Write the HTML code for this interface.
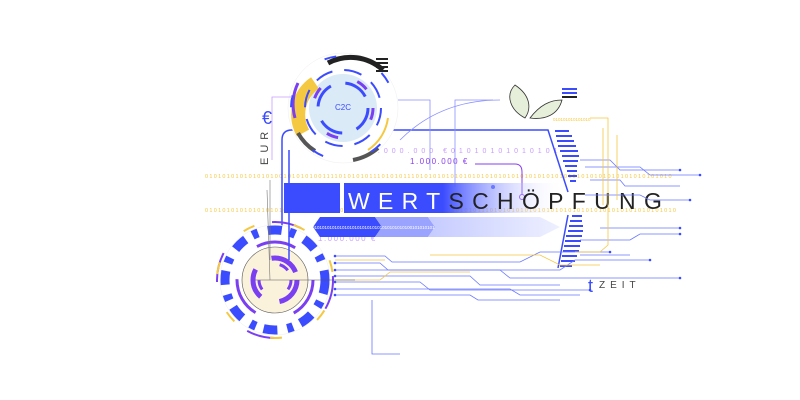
<!DOCTYPE html>
<html><head><meta charset="utf-8"><style>
html,body{margin:0;padding:0;background:#fff}
svg{display:block}
text{font-family:"Liberation Sans",sans-serif}
</style></head><body>
<svg width="800" height="400" viewBox="0 0 800 400" xmlns="http://www.w3.org/2000/svg">
<defs>
<linearGradient id="g1" x1="0" x2="1"><stop offset="0" stop-color="#3b4cff"/><stop offset="0.45" stop-color="#3b4cff"/><stop offset="1" stop-color="#fff" stop-opacity="0"/></linearGradient>
<linearGradient id="g2" x1="0" x2="1"><stop offset="0" stop-color="#c5cbff"/><stop offset="1" stop-color="#eef0ff"/></linearGradient>
<clipPath id="c1"><rect x="205" y="160" width="490" height="60"/></clipPath>
</defs>

<!-- binary rows -->
<g clip-path="url(#c1)">
<text x="205" y="178" font-size="5.5" fill="#f5c842" letter-spacing="1.3">010101010101010100101010100111101010101110101011101010101010101010101010101010101010101010101010101010101010</text>
<text x="205" y="212" font-size="5.5" fill="#f5c842" letter-spacing="1.3">0101010101010101010101010100101010001111010101010111010101010101110101010101010101010101010101010101010101010</text>
</g>
<text x="370" y="153" font-size="7" fill="#c79cff" letter-spacing="4">5.000.000 €01010101010101</text>
<text x="410" y="164" font-size="8" fill="#8a3ff0" letter-spacing="1.5">1.000.000 €</text>
<text x="318" y="241" font-size="8" fill="#c9a6ff" letter-spacing="1.5">1.000.000 €</text>

<!-- frame lines -->
<path d="M282 260 V140 Q282 130 292 130 H548 L568 192" fill="none" stroke="#3b4cff" stroke-width="1.5"/>
<path d="M568 215 L558 268" fill="none" stroke="#3b4cff" stroke-width="1.5"/>
<path d="M475 164 H515 Q522 164 522 172 V196" fill="none" stroke="#8a3ff0" stroke-width="1"/>
<circle cx="522" cy="197" r="2.5" fill="#fff" stroke="#8a3ff0"/>
<path d="M493 100 H455 V187" fill="none" stroke="#8a90ff" stroke-width="0.8"/><circle cx="493" cy="187" r="2" fill="#3b4cff"/>
<path d="M398 100 H430 V170" fill="none" stroke="#8a90ff" stroke-width="0.8"/>
<path d="M400 140 Q440 100 500 100" fill="none" stroke="#8a90ff" stroke-width="0.8"/>

<!-- banner -->
<rect x="284" y="183" width="56" height="30" fill="#3b4cff"/>
<rect x="344" y="183" width="220" height="30" fill="url(#g1)"/>
<polygon points="313,227 320,217 375,217 382,227 375,237 320,237" fill="#3b4cff"/>
<polygon points="375,217 428,217 435,227 428,237 375,237 382,227" fill="#9aa4ff"/>
<polygon points="428,217 540,217 560,227 540,237 428,237 435,227" fill="url(#g2)"/>
<text x="312" y="229" font-size="4.5" fill="#fff">0101010101010101010101010101010101010100101010101</text>
<text x="348" y="209" font-size="23" fill="#fff" letter-spacing="8.3">WERT<tspan fill="#222">SCHÖPFUNG</tspan></text>

<!-- stripes -->
<g fill="#3b4cff">
<rect x="555" y="130" width="14" height="2"/><rect x="556" y="135" width="16" height="2"/><rect x="557" y="140" width="17" height="2"/><rect x="558" y="145" width="18" height="2"/><rect x="560" y="150" width="18" height="2"/><rect x="562" y="155" width="17" height="2"/><rect x="563" y="160" width="15" height="2"/><rect x="565" y="165" width="12" height="2"/><rect x="567" y="170" width="10" height="2"/><rect x="568" y="175" width="9" height="2"/><rect x="570" y="180" width="6" height="2"/>
<rect x="572" y="215" width="10" height="2"/><rect x="570" y="220" width="12" height="2"/><rect x="569" y="225" width="14" height="2"/><rect x="568" y="230" width="15" height="2"/><rect x="566" y="235" width="16" height="2"/><rect x="565" y="240" width="16" height="2"/><rect x="564" y="245" width="16" height="2"/><rect x="563" y="250" width="16" height="2"/><rect x="562" y="255" width="15" height="2"/><rect x="561" y="260" width="14" height="2"/><rect x="560" y="265" width="12" height="2"/>
</g>

<!-- circuits -->
<g stroke="#6a78ff" stroke-width="0.8" fill="none">
<path d="M335 256 H385 L392 262 H520 L540 252 H610"/>
<path d="M335 263 H380 L388 270 H560 L575 260 H650"/>
<path d="M335 270 H500 L510 278 H680"/>
<path d="M335 276 H470 L480 285 H560"/>
<path d="M335 282 H420 L430 290 H590"/>
<path d="M335 289 H510 L520 295 H580"/>
<path d="M335 295 H470 L478 300 H560"/>
<path d="M580 160 H610 L620 170 H680"/>
<path d="M585 167 H640 L650 175 H700"/>
<path d="M590 180 H620 L625 186 H680"/>
<path d="M585 195 H640 L650 200 H690"/>
<path d="M600 228 H680"/><path d="M580 240 H630 L640 234 H680"/>
<path d="M580 255 H630"/><path d="M400 354 H372 V300"/>
</g>
<g stroke="#f5c842" stroke-width="0.8" fill="none">
<path d="M335 260 H385"/><path d="M335 280 H380 L390 272 H470"/>
<path d="M430 255 H540 L560 265 H600"/>
<path d="M590 118 H608 V245 L600 252 H575"/>
<path d="M603 128 V205"/><path d="M617 135 V200"/>
</g>
<text x="553" y="121" font-size="4.5" fill="#f5c842">010101010101010</text>
<g fill="#3b4cff">
<circle cx="335" cy="256" r="1.3"/><circle cx="335" cy="263" r="1.3"/><circle cx="335" cy="270" r="1.3"/><circle cx="335" cy="276" r="1.3"/><circle cx="335" cy="282" r="1.3"/><circle cx="335" cy="289" r="1.3"/><circle cx="335" cy="295" r="1.3"/>
<circle cx="610" cy="252" r="1.3"/><circle cx="650" cy="260" r="1.3"/><circle cx="680" cy="278" r="1.3"/><circle cx="590" cy="290" r="1.3"/><circle cx="680" cy="170" r="1.3"/><circle cx="700" cy="175" r="1.3"/><circle cx="690" cy="200" r="1.3"/><circle cx="680" cy="228" r="1.3"/><circle cx="680" cy="234" r="1.3"/>
</g>

<!-- bottom circle -->
<g transform="translate(275,280)">
<circle r="55" fill="#fff" stroke="#eee" stroke-width="0.5"/>
<circle r="33" fill="#fbf2dc"/>
<circle r="33" fill="none" stroke="#555" stroke-width="0.6"/>
<circle r="50" fill="none" stroke="#3b4cff" stroke-width="9" stroke-dasharray="14 8 6 10"/>
<circle r="58" fill="none" stroke="#7b3ff2" stroke-width="2" stroke-dasharray="30 60"/>
<circle r="58" fill="none" stroke="#f5c842" stroke-width="2" stroke-dasharray="12 40" stroke-dashoffset="20"/>
<circle r="38" fill="none" stroke="#7b3ff2" stroke-width="3" stroke-dasharray="40 40"/>
<circle r="22" fill="none" stroke="#7b3ff2" stroke-width="5" stroke-dasharray="30 20"/>
<circle r="16" fill="none" stroke="#7b3ff2" stroke-width="3" stroke-dasharray="10 30"/>
<path d="M-20 0 H80" stroke="#555" stroke-width="0.6"/>
<path d="M-8 -90 L-5 0" stroke="#777" stroke-width="0.6"/>
</g>
<path d="M289 150 V260" stroke="#3b4cff" stroke-width="1.5"/>
<path d="M270 180 V260" stroke="#777" stroke-width="0.6"/>

<!-- top circle -->
<g transform="translate(343,108)">
<circle r="55" fill="#fff" stroke="#eee" stroke-width="0.5"/>
<circle r="34" fill="#dbeaf7"/>
<path d="M-28 -25 A38 38 0 0 0 -40 25" fill="none" stroke="#f5c842" stroke-width="14"/>
<path d="M-45 -25 A50 50 0 0 0 -48 10" fill="none" stroke="#7b3ff2" stroke-width="3"/>
<path d="M-15 -45 A48 48 0 0 1 40 -38" fill="none" stroke="#222" stroke-width="5"/>
<path d="M45 10 A46 46 0 0 1 25 42" fill="none" stroke="#f5c842" stroke-width="2"/>
<path d="M-45 25 A50 50 0 0 0 -28 43" fill="none" stroke="#555" stroke-width="4"/>
<path d="M10 52 A54 54 0 0 0 35 40" fill="none" stroke="#555" stroke-width="4"/>
<circle r="25" fill="none" stroke="#3b4cff" stroke-width="3" stroke-dasharray="25 15"/>
<circle r="38" fill="none" stroke="#3b4cff" stroke-width="2" stroke-dasharray="18 12"/>
<circle r="52" fill="none" stroke="#3b4cff" stroke-width="2" stroke-dasharray="12 50" stroke-dashoffset="-40"/>
<circle r="30" fill="none" stroke="#7b3ff2" stroke-width="3" stroke-dasharray="12 40"/>
<text x="0" y="2" font-size="8" fill="#3b4cff" text-anchor="middle">C2C</text>
</g>
<path d="M292 97 H272 V160" stroke="#c79cff" stroke-width="0.8" fill="none"/>
<g fill="#222"><rect x="376" y="58" width="12" height="2"/><rect x="376" y="62" width="12" height="2"/><rect x="376" y="66" width="12" height="2"/><rect x="376" y="70" width="12" height="2"/></g>

<!-- leaf -->
<path d="M525 118 C510 110 505 95 515 85 C530 95 532 108 525 118 Z" fill="#e6efd9" stroke="#333" stroke-width="0.8"/>
<path d="M530 118 C540 105 550 100 562 100 C558 115 545 120 530 118 Z" fill="#e6efd9" stroke="#333" stroke-width="0.8"/>
<g fill="#3b4cff"><rect x="562" y="88" width="15" height="2"/><rect x="562" y="92" width="15" height="2"/></g><rect x="562" y="96" width="15" height="2" fill="#222"/>

<!-- labels -->
<text x="267" y="124" font-size="18" fill="#3b4cff" text-anchor="middle">€</text>
<text transform="translate(268,165) rotate(-90)" font-size="11" fill="#444" letter-spacing="5">EUR</text>
<text x="588" y="292" font-size="18" fill="#3b4cff">t</text>
<text x="599" y="288" font-size="10" fill="#444" letter-spacing="5">ZEIT</text>
</svg>
</body></html>
